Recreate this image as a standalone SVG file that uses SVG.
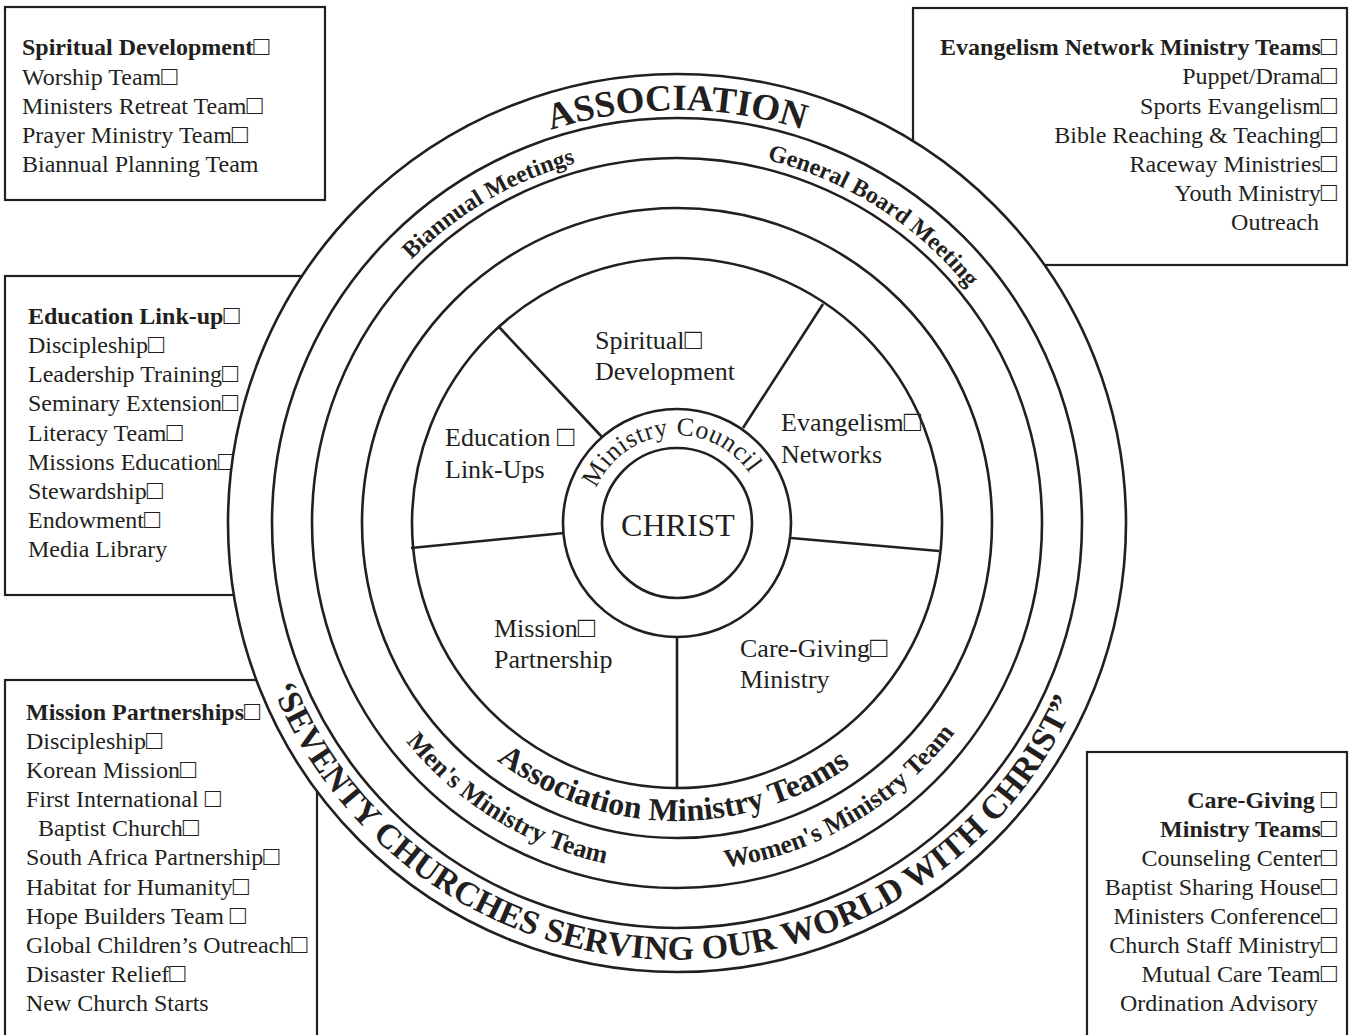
<svg xmlns="http://www.w3.org/2000/svg" width="1351" height="1035" viewBox="0 0 1351 1035">
  <style>
    .t { font-family: "Liberation Serif", "Times New Roman", serif; fill: #231f20; }
    .bt { font-size: 24px; }
    .b { font-weight: bold; }
    .sec { font-size: 26px; }
    .end { text-anchor: end; }
    .mid { text-anchor: middle; }
    .sq { font-size: 1.12em; }
    .box { fill: #fff; stroke: #231f20; stroke-width: 2.2; }
    .ring { fill: none; stroke: #231f20; stroke-width: 2.6; }
    .spoke { stroke: #231f20; stroke-width: 2.6; }
  </style>
  <defs>
    <!-- arc baselines for the ring captions, centre (677,523) -->
    <path id="arcAssoc" d="M270.3,451.3 A413,413 0 0,1 1083.7,451.3"/>
    <path id="arcBiannual" d="M308.1,461.3 A374,374 0 0,1 801.8,170.5"/>
    <path id="arcBoard" d="M564.5,166.3 A374,374 0 0,1 1047.8,474.2"/>
    <path id="arcCouncil" d="M589.0,523.8 A88,88 0 0,1 763.5,507.0"/>
    <path id="arcTeams" d="M382.8,570.6 A298,298 0 0,0 969.7,578.8"/>
    <path id="arcMen" d="M332.8,574.4 A348,348 0 0,0 787.4,853.0"/>
    <path id="arcWomen" d="M560.8,851.0 A348,348 0 0,0 1020.2,580.4"/>
    <path id="arcMotto" d="M241.1,553.5 A437,437 0 0,0 1111.6,568.7"/>
  </defs>

  <!-- side lists -->
  <g id="box-spiritual">
    <rect class="box" x="5" y="7" width="320" height="193"/>
    <text class="t bt b" x="22" y="55">Spiritual Development<tspan class="sq">□</tspan></text>
    <text class="t bt" x="22" y="85">Worship Team<tspan class="sq">□</tspan></text>
    <text class="t bt" x="22" y="114">Ministers Retreat Team<tspan class="sq">□</tspan></text>
    <text class="t bt" x="22" y="143">Prayer Ministry Team<tspan class="sq">□</tspan></text>
    <text class="t bt" x="22" y="172">Biannual Planning Team</text>
  </g>

  <g id="box-evangelism">
    <rect class="box" x="913" y="8" width="434" height="257"/>
    <text class="t bt b end" x="1337" y="55">Evangelism Network Ministry Teams<tspan class="sq">□</tspan></text>
    <text class="t bt end" x="1337" y="84">Puppet/Drama<tspan class="sq">□</tspan></text>
    <text class="t bt end" x="1337" y="114">Sports Evangelism<tspan class="sq">□</tspan></text>
    <text class="t bt end" x="1337" y="143">Bible Reaching &amp; Teaching<tspan class="sq">□</tspan></text>
    <text class="t bt end" x="1337" y="172">Raceway Ministries<tspan class="sq">□</tspan></text>
    <text class="t bt end" x="1337" y="201">Youth Ministry<tspan class="sq">□</tspan></text>
    <text class="t bt end" x="1319" y="230">Outreach</text>
  </g>

  <g id="box-education">
    <rect class="box" x="5" y="276" width="395" height="319"/>
    <text class="t bt b" x="28" y="324">Education Link-up<tspan class="sq">□</tspan></text>
    <text class="t bt" x="28" y="353">Discipleship<tspan class="sq">□</tspan></text>
    <text class="t bt" x="28" y="382">Leadership Training<tspan class="sq">□</tspan></text>
    <text class="t bt" x="28" y="411">Seminary Extension<tspan class="sq">□</tspan></text>
    <text class="t bt" x="28" y="441">Literacy Team<tspan class="sq">□</tspan></text>
    <text class="t bt" x="28" y="470">Missions Education<tspan class="sq">□</tspan></text>
    <text class="t bt" x="28" y="499">Stewardship<tspan class="sq">□</tspan></text>
    <text class="t bt" x="28" y="528">Endowment<tspan class="sq">□</tspan></text>
    <text class="t bt" x="28" y="557">Media Library</text>
  </g>

  <g id="box-mission">
    <rect class="box" x="5" y="680" width="312" height="370"/>
    <text class="t bt b" x="26" y="720">Mission Partnerships<tspan class="sq">□</tspan></text>
    <text class="t bt" x="26" y="749">Discipleship<tspan class="sq">□</tspan></text>
    <text class="t bt" x="26" y="778">Korean Mission<tspan class="sq">□</tspan></text>
    <text class="t bt" x="26" y="807">First International <tspan class="sq">□</tspan></text>
    <text class="t bt" x="38" y="836">Baptist Church<tspan class="sq">□</tspan></text>
    <text class="t bt" x="26" y="865">South Africa Partnership<tspan class="sq">□</tspan></text>
    <text class="t bt" x="26" y="895">Habitat for Humanity<tspan class="sq">□</tspan></text>
    <text class="t bt" x="26" y="924">Hope Builders Team <tspan class="sq">□</tspan></text>
    <text class="t bt" x="26" y="953">Global Children’s Outreach<tspan class="sq">□</tspan></text>
    <text class="t bt" x="26" y="982">Disaster Relief<tspan class="sq">□</tspan></text>
    <text class="t bt" x="26" y="1011">New Church Starts</text>
  </g>

  <g id="box-caregiving">
    <rect class="box" x="1087" y="752" width="260" height="300"/>
    <text class="t bt b end" x="1337" y="808">Care-Giving <tspan class="sq">□</tspan></text>
    <text class="t bt b end" x="1337" y="837">Ministry Teams<tspan class="sq">□</tspan></text>
    <text class="t bt end" x="1337" y="866">Counseling Center<tspan class="sq">□</tspan></text>
    <text class="t bt end" x="1337" y="895">Baptist Sharing House<tspan class="sq">□</tspan></text>
    <text class="t bt end" x="1337" y="924">Ministers Conference<tspan class="sq">□</tspan></text>
    <text class="t bt end" x="1337" y="953">Church Staff Ministry<tspan class="sq">□</tspan></text>
    <text class="t bt end" x="1337" y="982">Mutual Care Team<tspan class="sq">□</tspan></text>
    <text class="t bt end" x="1318" y="1011">Ordination Advisory</text>
  </g>

  <!-- concentric rings -->
  <g id="rings">
    <circle cx="677" cy="523" r="449" fill="#fff" stroke="#231f20" stroke-width="2.6"/>
    <circle class="ring" cx="677" cy="523" r="405"/>
    <circle class="ring" cx="677" cy="523" r="365"/>
    <circle class="ring" cx="677" cy="523" r="315"/>
    <circle class="ring" cx="677" cy="523" r="265"/>
    <circle class="ring" cx="677" cy="523" r="114"/>
    <circle class="ring" cx="677" cy="523" r="75"/>
  </g>

  <!-- dividers between the five ministry sectors -->
  <g id="connectors">
    <line class="spoke" x1="602" y1="437" x2="499" y2="327"/>
    <line class="spoke" x1="743" y1="428" x2="823" y2="304"/>
    <line class="spoke" x1="791" y1="538" x2="939" y2="551"/>
    <line class="spoke" x1="677" y1="637" x2="677" y2="788"/>
    <line class="spoke" x1="564" y1="533" x2="411" y2="548"/>
  </g>

  <g id="ring-association">
    <text class="t b" font-size="37"><textPath href="#arcAssoc" startOffset="50%" text-anchor="middle">ASSOCIATION</textPath></text>
  </g>
  <g id="ring-biannual">
    <text class="t b" font-size="24"><textPath href="#arcBiannual" startOffset="50%" text-anchor="middle">Biannual Meetings</textPath></text>
  </g>
  <g id="ring-board">
    <text class="t b" font-size="24"><textPath href="#arcBoard" startOffset="50%" text-anchor="middle">General Board Meeting</textPath></text>
  </g>
  <g id="ring-teams">
    <text class="t b" font-size="32"><textPath href="#arcTeams" startOffset="50%" text-anchor="middle">Association Ministry Teams</textPath></text>
  </g>
  <g id="ring-men">
    <text class="t b" font-size="26"><textPath href="#arcMen" startOffset="50%" text-anchor="middle">Men's Ministry Team</textPath></text>
  </g>
  <g id="ring-women">
    <text class="t b" font-size="26"><textPath href="#arcWomen" startOffset="50%" text-anchor="middle">Women's Ministry Team</textPath></text>
  </g>
  <g id="ring-motto">
    <text class="t b" font-size="34"><textPath href="#arcMotto" startOffset="50%" text-anchor="middle">‘SEVENTY CHURCHES SERVING OUR WORLD WITH CHRIST”</textPath></text>
  </g>

  <!-- ministry sectors -->
  <g id="sector-spiritual">
    <text class="t sec" x="595" y="349">Spiritual<tspan class="sq">□</tspan></text>
    <text class="t sec" x="595" y="380">Development</text>
  </g>
  <g id="sector-evangelism">
    <text class="t sec" x="781" y="431">Evangelism<tspan class="sq">□</tspan></text>
    <text class="t sec" x="781" y="463">Networks</text>
  </g>
  <g id="sector-education">
    <text class="t sec" x="445" y="446">Education <tspan class="sq">□</tspan></text>
    <text class="t sec" x="445" y="478">Link-Ups</text>
  </g>
  <g id="sector-mission">
    <text class="t sec" x="494" y="637">Mission<tspan class="sq">□</tspan></text>
    <text class="t sec" x="494" y="668">Partnership</text>
  </g>
  <g id="sector-caregiving">
    <text class="t sec" x="740" y="657">Care-Giving<tspan class="sq">□</tspan></text>
    <text class="t sec" x="740" y="688">Ministry</text>
  </g>

  <g id="council">
    <text class="t" font-size="26" letter-spacing="0.6"><textPath href="#arcCouncil" startOffset="50%" text-anchor="middle">Ministry Council</textPath></text>
  </g>
  <g id="christ">
    <text class="t mid" x="678" y="536" font-size="32">CHRIST</text>
  </g>
</svg>
